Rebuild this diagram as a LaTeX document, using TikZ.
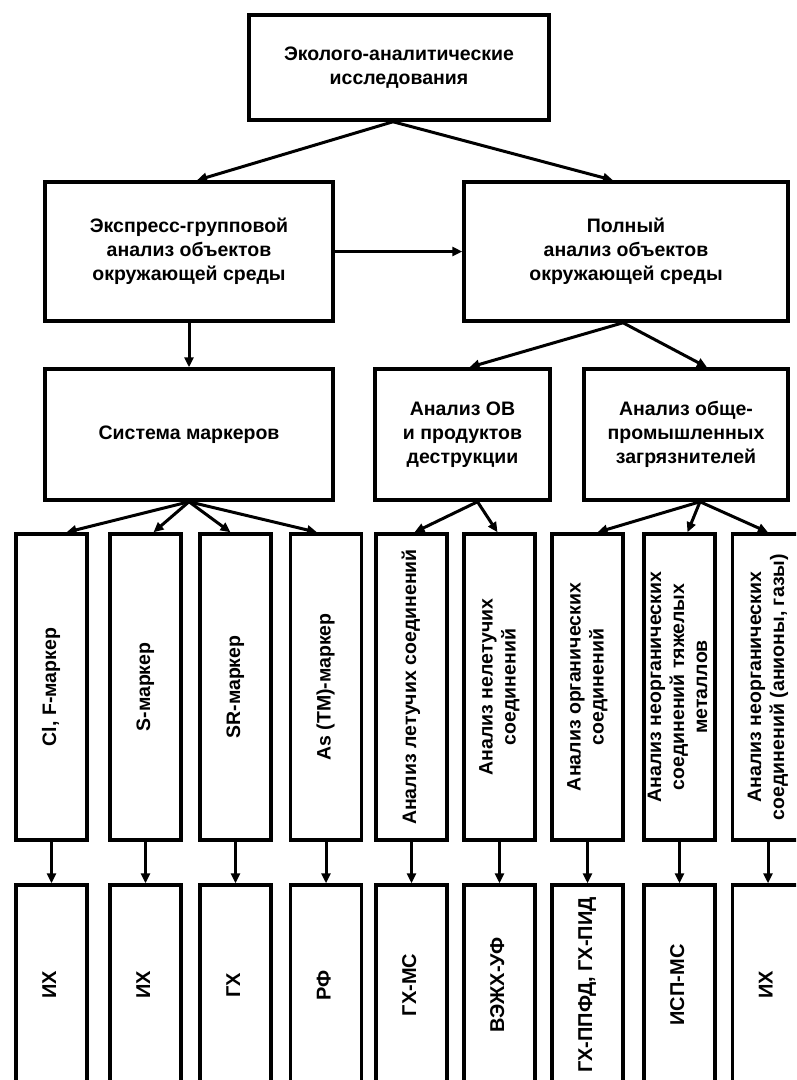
\documentclass[tikz,border=0pt]{standalone}
\usepackage{fontspec}
\setmainfont{Liberation Sans}
\usetikzlibrary{arrows.meta}
\begin{document}
\begin{tikzpicture}[x=1pt,y=-1pt,
  box/.style={draw, line width=3.5pt, align=center, inner sep=0pt,
    font=\fontsize{19.5}{24}\selectfont\bfseries},
  vbox/.style={box, minimum width=71pt, minimum height=306pt,
    font=\fontsize{19.5}{23}\selectfont\bfseries},
  bbox/.style={box, minimum width=71pt, minimum height=200pt,
    font=\fontsize{20}{23}\selectfont\bfseries},
  conn/.style={line width=3pt, -{Triangle[length=10pt,width=9pt]}},
]
\useasboundingbox (0,0) rectangle (796,1080);
\clip (0,0) rectangle (796,1080);
\newcommand{\vt}[1]{\rotatebox{90}{\begin{tabular}{@{}c@{}}#1\end{tabular}}}

% level 1
\node[box, minimum width=300pt, minimum height=105pt] (top) at (399,67.5)
  {Эколого-аналитические\\исследования};
% level 2
\node[box, minimum width=288pt, minimum height=139pt] (expr) at (189,251.5)
  {Экспресс-групповой\\анализ объектов\\окружающей среды};
\node[box, minimum width=324pt, minimum height=139pt] (full) at (626,251.5)
  {Полный\\анализ объектов\\окружающей среды};
% level 3
\node[box, minimum width=288pt, minimum height=131pt] (sys) at (189,434.5)
  {Система маркеров};
\node[box, minimum width=175pt, minimum height=131pt] (ov) at (462.5,434.5)
  {Анализ ОВ\\и продуктов\\деструкции};
\node[box, minimum width=204pt, minimum height=131pt] (gen) at (686,434.5)
  {Анализ обще-\\промышленных\\загрязнителей};
% level 4
\node[vbox] (v1) at (51.5,687) {\vt{Cl, F-маркер}};
\node[vbox] (v2) at (145.5,687) {\vt{S-маркер}};
\node[vbox] (v3) at (235.5,687) {\vt{SR-маркер}};
\node[vbox] (v4) at (326,687) {\vt{As (ТМ)-маркер}};
\node[vbox] (v5) at (411.5,687) {\vt{Анализ летучих соединений}};
\node[vbox] (v6) at (499.5,687) {\vt{Анализ нелетучих\\соединений}};
\node[vbox] (v7) at (587.5,687) {\vt{Анализ органических\\соединений}};
\node[vbox] (v8) at (679.5,687) {\vt{Анализ неорганических\\соединений тяжелых\\металлов}};
\node[vbox] (v9) at (768,687) {\vt{Анализ неорганических\\соединений (анионы, газы)}};
% level 5
\node[bbox] (b1) at (51.5,985) {\vt{ИХ}};
\node[bbox] (b2) at (145.5,985) {\vt{ИХ}};
\node[bbox] (b3) at (235.5,985) {\vt{ГХ}};
\node[bbox] (b4) at (326,985) {\vt{РФ}};
\node[bbox] (b5) at (411.5,985) {\vt{ГХ-МС}};
\node[bbox] (b6) at (499.5,985) {\vt{ВЭЖХ-УФ}};
\node[bbox] (b7) at (587.5,985) {\vt{ГХ-ППФД, ГХ-ПИД}};
\node[bbox] (b8) at (679.5,985) {\vt{ИСП-МС}};
\node[bbox] (b9) at (768,985) {\vt{ИХ}};

% connectors
\draw[conn] ([xshift=-6pt]top.south) -- ([xshift=8pt]expr.north);
\draw[conn] ([xshift=-6pt]top.south) -- ([xshift=-13pt]full.north);
\draw[conn] (expr.east) -- (full.west);
\draw[conn] (expr.south) -- (sys.north);
\draw[conn] ([xshift=-3pt]full.south) -- ([xshift=7pt]ov.north);
\draw[conn] ([xshift=-3pt]full.south) -- ([xshift=21pt]gen.north);
\draw[conn] (sys.south) -- ([xshift=15pt]v1.north);
\draw[conn] (sys.south) -- ([xshift=8pt]v2.north);
\draw[conn] (sys.south) -- ([xshift=-5pt]v3.north);
\draw[conn] (sys.south) -- ([xshift=-9pt]v4.north);
\draw[conn] ([xshift=15pt]ov.south) -- ([xshift=3pt]v5.north);
\draw[conn] ([xshift=15pt]ov.south) -- ([xshift=-2pt]v6.north);
\draw[conn] ([xshift=14pt]gen.south) -- ([xshift=10pt]v7.north);
\draw[conn] ([xshift=14pt]gen.south) -- ([xshift=8pt]v8.north);
\draw[conn] ([xshift=14pt]gen.south) -- (v9.north);
\foreach \i in {1,...,9} {\draw[conn] (v\i.south) -- (b\i.north);}
\end{tikzpicture}
\end{document}
